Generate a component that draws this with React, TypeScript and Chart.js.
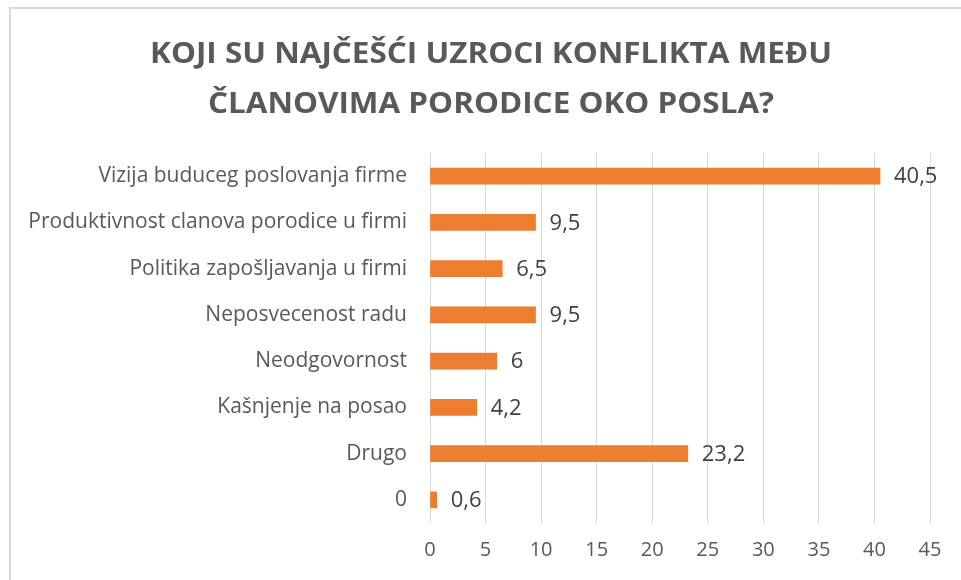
import React, { useEffect, useRef } from "react";
import { Chart, registerables } from "chart.js";

Chart.register(...registerables);

const categories = [
  "Vizija buduceg poslovanja firme",
  "Produktivnost clanova porodice u firmi",
  "Politika zapošljavanja u firmi",
  "Neposvecenost radu",
  "Neodgovornost",
  "Kašnjenje na posao",
  "Drugo",
  "0",
];
const values = [40.5, 9.5, 6.5, 9.5, 6, 4.2, 23.2, 0.6];
const titleLines = ["KOJI SU NAJČEŠĆI UZROCI KONFLIKTA MEĐU", "ČLANOVIMA PORODICE OKO POSLA?"];
const xMin = 0;
const xMax = 45;
const xStep = 5;

const labelFont = "'Open Sans', sans-serif";

const valueLabels = {
  id: "valueLabels",
  afterDatasetsDraw(chart: any) {
    const ctx = chart.ctx;
    const meta = chart.getDatasetMeta(0);
    ctx.save();
    ctx.font = `22px ${labelFont}`;
    ctx.fillStyle = "#404040";
    ctx.textBaseline = "middle";
    ctx.textAlign = "left";
    meta.data.forEach((bar: any, i: number) => {
      const txt = String(values[i]).replace(".", ",");
      ctx.fillText(txt, bar.x + 14, bar.y + 1);
    });
    ctx.restore();
  },
};

const titlePlugin = {
  id: "customTitle",
  afterDraw(chart: any) {
    const ctx = chart.ctx;
    ctx.save();
    ctx.font = `bold 28px ${labelFont}`;
    ctx.fillStyle = "#595959";
    ctx.textAlign = "center";
    ctx.textBaseline = "alphabetic";
    const w = ctx.measureText(titleLines[0]).width;
    const sx = 682 / w;
    ctx.translate(491, 0);
    ctx.scale(sx, 1);
    ctx.fillText(titleLines[0], 0, 63);
    ctx.fillText(titleLines[1], 0, 113);
    ctx.restore();
  },
};

export default function App() {
  const ref = useRef<HTMLCanvasElement>(null);
  useEffect(() => {
    if (!ref.current) return;
    const chart = new Chart(ref.current, {
      type: "bar",
      data: {
        labels: categories,
        datasets: [
          {
            data: values,
            backgroundColor: "#ED7D31",
            borderWidth: 0,
            barThickness: 16,
          },
        ],
      },
      plugins: [valueLabels, titlePlugin],
      options: {
        indexAxis: "y",
        animation: false,
        responsive: false,
        layout: { padding: { left: 0, right: 31, top: 153, bottom: 0 } },
        plugins: {
          legend: { display: false },
          tooltip: { enabled: false },
          title: { display: false },
        },
        scales: {
          x: {
            type: "linear",
            min: xMin,
            max: xMax,
            ticks: {
              stepSize: xStep,
              color: "#595959",
              font: { family: labelFont, size: 20 },
              padding: 15,
            },
            grid: { color: "#d9d9d9", lineWidth: 1, drawTicks: false },
            border: { display: false },
            afterFit: (s: any) => {
              s.height = 57;
            },
          },
          y: {
            ticks: {
              color: "#595959",
              font: { family: labelFont, size: 21 },
              padding: 23,
            },
            grid: { display: false, drawTicks: false },
            border: { display: false },
            afterFit: (s: any) => {
              s.width = 430;
            },
          },
        },
      },
    });
    return () => chart.destroy();
  }, []);
  return (
    <div style={{ position: "fixed", left: 0, top: 0, width: 961, height: 580, background: "#fff" }}>
      <div
        style={{
          position: "absolute",
          left: 9,
          top: 7,
          right: -2,
          bottom: -2,
          borderLeft: "2px solid #d9d9d9",
          borderTop: "2px solid #d9d9d9",
        }}
      />
      <canvas ref={ref} width={961} height={580} style={{ position: "absolute", left: 0, top: 0 }} />
    </div>
  );
}
